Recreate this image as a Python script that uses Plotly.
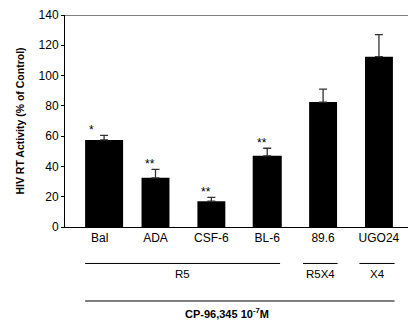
import plotly.graph_objects as go

categories = ["Bal", "ADA", "CSF-6", "BL-6", "89.6", "UGO24"]
values = [57.5, 32.5, 17, 47, 82.5, 112.5]
errors = [3, 5.5, 2.5, 5, 8.5, 14.5]
stars = ["*", "**", "**", "**", "", ""]
yticks = [0, 20, 40, 60, 80, 100, 120, 140]

FONT = "Liberation Sans, Arial, sans-serif"

fig = go.Figure()
fig.add_trace(go.Bar(
    x=categories, y=values,
    marker=dict(color="black", line=dict(width=0)),
    width=[0.68, 0.5, 0.5, 0.52, 0.5, 0.5],
    offset=[-0.26, -0.25, -0.25, -0.26, -0.25, -0.25],
    error_y=dict(type="data", array=errors, arrayminus=[0]*6, symmetric=False,
                 color="#333", thickness=1.3, width=4),
    hoverinfo="skip",
))

annotations = []
for i, (c, v, e, s) in enumerate(zip(categories, values, errors, stars)):
    if s:
        annotations.append(dict(x=i - 0.22, y=v + e, xref="x", yref="y", text=s,
                                showarrow=False, xanchor="left", yanchor="bottom",
                                font=dict(family=FONT, size=12, color="#000000"), yshift=-4))

groups = [("R5", -0.26, 3.23), ("R5X4", 3.64, 4.26), ("X4", 4.65, 5.28)]
shapes = []
for name, a, b in groups:
    shapes.append(dict(type="line", xref="x", yref="paper", x0=a, x1=b, y0=-0.172, y1=-0.172,
                       line=dict(color="black", width=1)))
    annotations.append(dict(x=(a + b) / 2, y=-0.222, xref="x", yref="paper", text=name,
                            showarrow=False, yanchor="middle",
                            font=dict(family=FONT, size=11.5, color="black")))
shapes.append(dict(type="line", xref="x", yref="paper", x0=-0.26, x1=5.28, y0=-0.349, y1=-0.349,
                   line=dict(color="black", width=1)))
annotations.append(dict(x=2.28, y=-0.406, xref="x", yref="paper",
                        text="<b>CP-96,345 10<sup>-7</sup>M</b>", yanchor="middle",
                        showarrow=False, font=dict(family=FONT, size=11, color="black")))
shapes.append(dict(type="line", xref="paper", yref="y", x0=0, x1=1, y0=140, y1=140,
                   line=dict(color="black", width=1.2)))

fig.update_layout(
    width=409, height=326,
    margin=dict(l=65, r=1, t=15, b=99),
    plot_bgcolor="white", paper_bgcolor="white",
    showlegend=False,
    font=dict(family=FONT, size=11, color="black"),
    xaxis=dict(type="category", range=[-0.62, 5.52], showline=True, linecolor="black",
               linewidth=1, ticks="", tickfont=dict(size=12), showgrid=False, automargin=False),
    yaxis=dict(range=[0, 140], tickvals=yticks, showline=True, linecolor="black", linewidth=1,
               ticks="outside", ticklen=3, tickcolor="black", showgrid=False, zeroline=False,
               tickfont=dict(size=12), automargin=False,
               title=dict(text="<b>HIV RT Activity (% of Control)</b>", font=dict(size=10.5), standoff=11)),
    shapes=shapes, annotations=annotations,
)

fig.write_html("out.html", config={"displayModeBar": False},
               post_script="document.body.style.margin='0';document.body.style.overflow='hidden';")
